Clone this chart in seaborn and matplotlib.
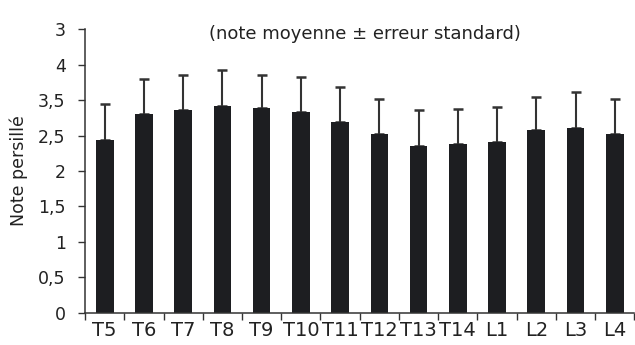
import numpy as np
import matplotlib
matplotlib.use('Agg')
import matplotlib.pyplot as plt
import seaborn as sns

# ── DATA ────────────────────────────────────────────────────────────────────
categories = ['T5', 'T6', 'T7', 'T8', 'T9', 'T10', 'T11', 'T12', 'T13', 'T14',
              'L1', 'L2', 'L3', 'L4']
means = [2.44, 2.80, 2.86, 2.92, 2.89, 2.83, 2.69, 2.52, 2.35, 2.38,
         2.41, 2.58, 2.61, 2.52]
std_err = [0.50, 0.50, 0.50, 0.50, 0.47, 0.50, 0.50, 0.50, 0.51, 0.50,
           0.50, 0.47, 0.51, 0.50]
ytick_pos = [0, 0.5, 1, 1.5, 2, 2.5, 3, 3.5, 4]
ytick_labels = ['0', '0,5', '1', '1,5', '2', '2,5', '3,5', '4', '3']

# ── STYLE ───────────────────────────────────────────────────────────────────
sns.set_style('white')
plt.rcParams['font.family'] = ['DejaVu Sans']
BAR = '#1d1e21'
LINE = '#333333'
TXT = '#222222'

fig, ax = plt.subplots(figsize=(6.35, 3.45), dpi=100)
fig.subplots_adjust(left=0.134, right=0.999, bottom=0.094, top=0.915)

sns.barplot(x=categories, y=means, color=BAR, width=0.45, saturation=1,
            linewidth=0, ax=ax, zorder=2)
x = np.arange(len(categories))
# upper error only; drawn behind the bars so the lower cap is hidden
ax.errorbar(x, means, yerr=[np.zeros(len(means)), std_err], fmt='none',
            ecolor=LINE, elinewidth=1.5, capsize=3.5, capthick=1.8, zorder=1)

ax.set_xlim(-0.5, len(categories) - 0.5)
ax.set_ylim(0, 4)
ax.set_yticks(ytick_pos)
ax.set_yticklabels(ytick_labels)

# ticks between bars on the x axis, labels at bar centres
ax.set_xticks(x)
ax.set_xticklabels(categories)
ax.set_xticks(np.arange(-0.5, len(categories), 1.0), minor=True)
ax.tick_params(axis='x', which='major', length=0, pad=6, labelsize=14,
               colors=TXT)
ax.tick_params(axis='x', which='minor', length=5, width=1, color=LINE,
               direction='out', bottom=True)
ax.tick_params(axis='y', length=5, width=1, color=LINE, direction='out',
               left=True, labelsize=12.5, colors=TXT, pad=9)

for side in ('top', 'right'):
    ax.spines[side].set_visible(False)
for side in ('left', 'bottom'):
    ax.spines[side].set_color(LINE)
    ax.spines[side].set_linewidth(1.1)

ax.set_ylabel('Note persillé', fontsize=12.5, color=TXT, labelpad=7)
ax.text(0.51, 0.985, '(note moyenne ± erreur standard)', transform=ax.transAxes,
        ha='center', va='center', fontsize=13, color=TXT)

plt.savefig('out.png', dpi=100)
